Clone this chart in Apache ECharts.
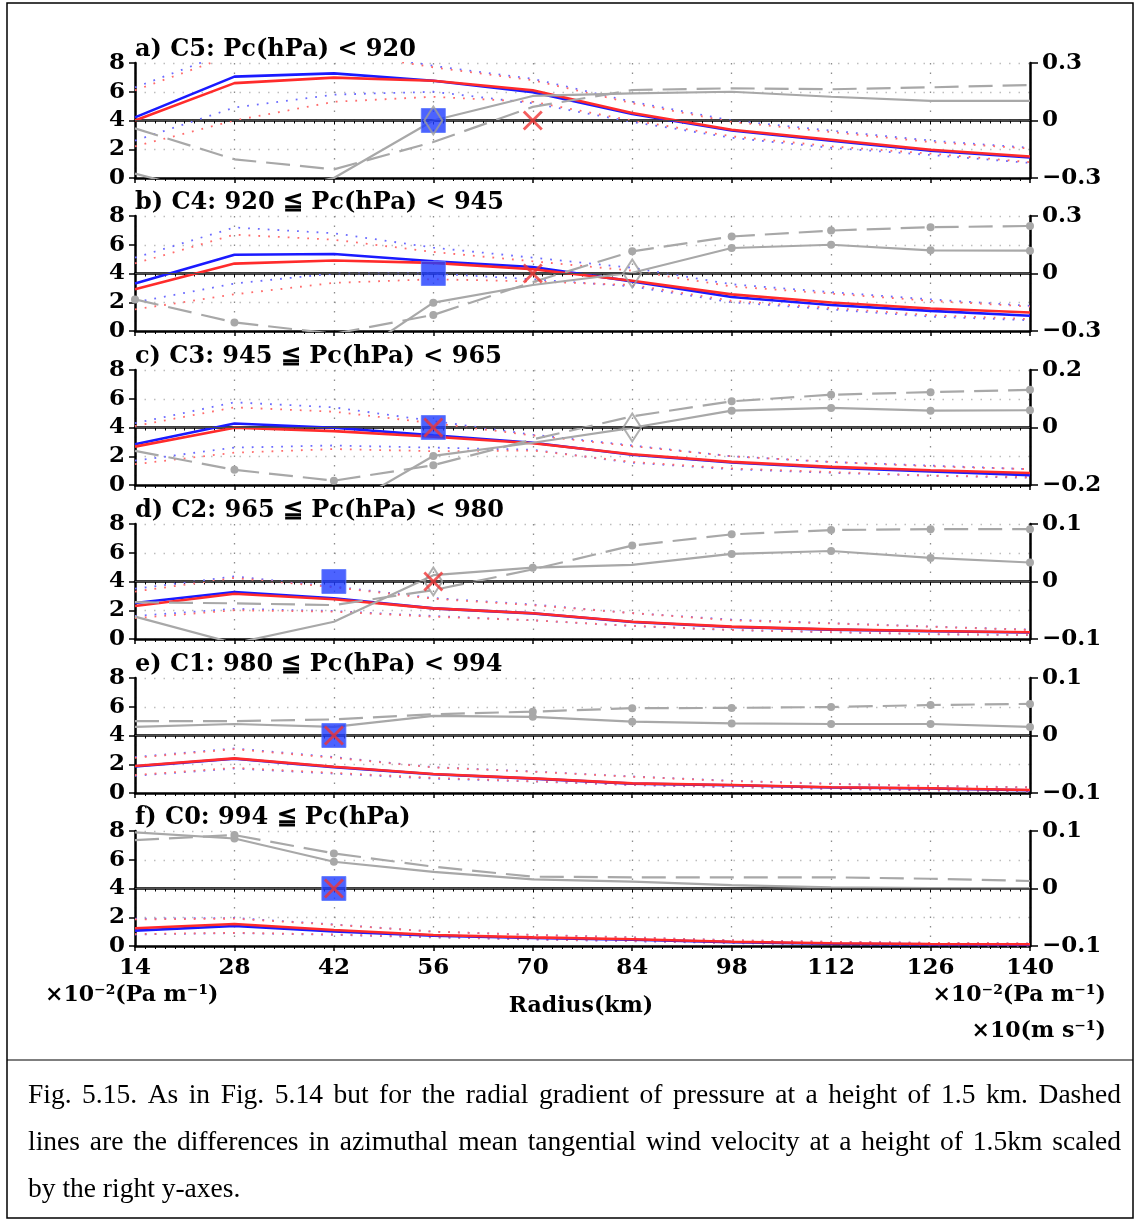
<!DOCTYPE html>
<html>
<head>
<meta charset="utf-8">
<script src="https://cdn.jsdelivr.net/npm/echarts@6.0.0/dist/echarts.min.js"></script>
<style>
html, body { margin: 0; padding: 0; background: #fff; }
#chart { width: 1136px; height: 1220px; }
</style>
</head>
<body>
<div id="chart"></div>
<script>
// radius (km) of the samples
const radius = [14, 28, 42, 56, 70, 84, 98, 112, 126, 140]
const panelTitles = [
    'a) C5: Pc(hPa) < 920',
    'b) C4: 920 ≦ Pc(hPa) < 945',
    'c) C3: 945 ≦ Pc(hPa) < 965',
    'd) C2: 965 ≦ Pc(hPa) < 980',
    'e) C1: 980 ≦ Pc(hPa) < 994',
    'f) C0: 994 ≦ Pc(hPa)'
]
// right axis half range per panel
const rightMax = [0.3, 0.3, 0.2, 0.1, 0.1, 0.1]

// radial pressure gradient (x10^-2 Pa/m), one row per panel a..f
const bluePG = [
    [4.22, 7.05, 7.28, 6.77, 5.96, 4.45, 3.3, 2.6, 1.9, 1.43],
    [3.3, 5.3, 5.36, 4.85, 4.45, 3.45, 2.37, 1.81, 1.4, 1.06],
    [2.83, 4.28, 3.98, 3.45, 2.94, 2.1, 1.57, 1.2, 0.95, 0.69],
    [2.5, 3.27, 2.83, 2.13, 1.78, 1.18, 0.84, 0.65, 0.54, 0.45],
    [1.85, 2.38, 1.8, 1.3, 1.0, 0.65, 0.54, 0.38, 0.31, 0.19],
    [1.07, 1.39, 1.02, 0.72, 0.56, 0.43, 0.27, 0.16, 0.11, 0.09]
]
const redPG = [
    [4.0, 6.6, 6.98, 6.77, 6.1, 4.52, 3.36, 2.66, 1.97, 1.5],
    [2.9, 4.69, 4.9, 4.74, 4.3, 3.5, 2.55, 1.98, 1.56, 1.29],
    [2.67, 3.98, 3.75, 3.36, 2.9, 2.14, 1.61, 1.26, 1.03, 0.83],
    [2.3, 3.15, 2.76, 2.13, 1.79, 1.2, 0.86, 0.67, 0.56, 0.47],
    [1.88, 2.41, 1.83, 1.32, 1.02, 0.67, 0.56, 0.4, 0.33, 0.21],
    [1.23, 1.53, 1.11, 0.77, 0.6, 0.47, 0.3, 0.19, 0.14, 0.12]
]
// dotted spread lines
const blueHi = [
    [6.3, 8.9, 9.0, 7.8, 6.9, 5.3, 4.0, 3.3, 2.6, 2.1],
    [5.1, 7.2, 6.8, 5.8, 5.1, 4.4, 3.25, 2.7, 2.2, 1.75],
    [4.3, 5.75, 5.4, 4.45, 3.5, 2.75, 2.0, 1.6, 1.35, 1.1],
    [3.5, 4.35, 3.65, 2.85, 2.4, 1.8, 1.35, 1.1, 0.87, 0.65],
    [2.5, 3.1, 2.5, 1.8, 1.5, 1.15, 0.85, 0.65, 0.5, 0.4],
    [1.9, 1.95, 1.5, 1.0, 0.78, 0.6, 0.4, 0.3, 0.22, 0.18]
]
const redHi = [
    [6.1, 8.6, 8.8, 7.7, 6.8, 5.2, 3.9, 3.2, 2.5, 2.05],
    [4.7, 6.7, 6.35, 5.5, 4.85, 4.2, 3.1, 2.6, 2.1, 1.7],
    [4.1, 5.4, 5.1, 4.3, 3.45, 2.7, 2.0, 1.6, 1.3, 1.1],
    [3.3, 4.25, 3.6, 2.8, 2.35, 1.8, 1.3, 1.08, 0.85, 0.63],
    [2.45, 3.05, 2.45, 1.78, 1.48, 1.13, 0.83, 0.63, 0.48, 0.38],
    [1.85, 1.9, 1.48, 1.0, 0.77, 0.58, 0.4, 0.29, 0.22, 0.17]
]
const blueLo = [
    [2.6, 4.9, 5.8, 6.0, 5.2, 3.9, 2.8, 2.1, 1.6, 1.05],
    [2.0, 3.3, 4.0, 4.0, 3.6, 3.1, 2.0, 1.5, 1.0, 0.75],
    [1.7, 2.6, 2.75, 2.6, 2.45, 1.55, 1.1, 0.85, 0.65, 0.5],
    [1.6, 2.1, 1.95, 1.6, 1.3, 0.9, 0.62, 0.47, 0.33, 0.27],
    [1.2, 1.7, 1.35, 1.0, 0.8, 0.55, 0.4, 0.28, 0.18, 0.1],
    [0.8, 0.9, 0.78, 0.6, 0.45, 0.33, 0.2, 0.1, 0.05, 0.02]
]
const redLo = [
    [2.2, 4.0, 5.3, 5.65, 5.3, 4.0, 2.9, 2.2, 1.7, 1.1],
    [1.5, 2.55, 3.35, 3.6, 3.45, 3.2, 2.1, 1.6, 1.1, 0.83],
    [1.45, 2.25, 2.5, 2.35, 2.4, 1.6, 1.15, 0.9, 0.65, 0.55],
    [1.45, 2.0, 1.9, 1.55, 1.3, 0.92, 0.63, 0.48, 0.34, 0.28],
    [1.25, 1.75, 1.4, 1.05, 0.82, 0.57, 0.42, 0.3, 0.2, 0.12],
    [0.83, 0.92, 0.8, 0.62, 0.47, 0.35, 0.22, 0.12, 0.07, 0.04]
]
// differences, right axis (gray solid / gray dashed)
const diffSolid = [
    [-0.2775, -0.41, -0.3, 0, 0.128, 0.142, 0.15, 0.124, 0.102, 0.102],
    [-0.5, -0.55, -0.5, -0.152, -0.06, 0.004, 0.133, 0.15, 0.121, 0.119],
    [-0.3, -0.32, -0.3, -0.099, -0.053, -0.001, 0.0585, 0.068, 0.0585, 0.06],
    [-0.061, -0.1075, -0.07, 0.011, 0.024, 0.029, 0.048, 0.053, 0.041, 0.033],
    [0.015, 0.02, 0.015, 0.034, 0.0325, 0.024, 0.021, 0.02, 0.02, 0.015],
    [0.0975, 0.087, 0.0465, 0.029, 0.016, 0.012, 0.006, 0.002, 0.0005, 0.0005]
]
const diffDash = [
    [-0.041, -0.2025, -0.255, -0.1125, 0.071, 0.159, 0.168, 0.163, 0.173, 0.185],
    [-0.135, -0.255, -0.315, -0.216, -0.045, 0.1155, 0.193, 0.224, 0.2415, 0.248],
    [-0.0815, -0.147, -0.185, -0.131, -0.0415, 0.039, 0.091, 0.114, 0.123, 0.131],
    [-0.036, -0.038, -0.041, -0.015, 0.021, 0.0625, 0.082, 0.0895, 0.091, 0.091],
    [0.025, 0.025, 0.028, 0.037, 0.0415, 0.0475, 0.048, 0.0495, 0.053, 0.055],
    [0.084, 0.093, 0.061, 0.038, 0.0205, 0.0195, 0.0195, 0.0195, 0.017, 0.013]
]
// 1 = significant point (dot drawn)
const solidSig = [
    [0, 0, 0, 0, 0, 0, 0, 0, 0, 0],
    [0, 0, 0, 1, 0, 0, 1, 1, 1, 1],
    [0, 0, 0, 1, 0, 0, 1, 1, 1, 1],
    [0, 0, 0, 0, 1, 0, 1, 1, 1, 1],
    [0, 0, 0, 0, 1, 1, 1, 1, 1, 1],
    [0, 1, 1, 0, 0, 0, 0, 0, 0, 0]
]
const dashSig = [
    [0, 0, 0, 0, 0, 0, 0, 0, 0, 0],
    [1, 1, 0, 1, 0, 1, 1, 1, 1, 1],
    [0, 1, 1, 1, 0, 0, 1, 1, 1, 1],
    [0, 0, 0, 0, 0, 1, 1, 1, 1, 1],
    [0, 0, 0, 0, 1, 1, 1, 1, 1, 1],
    [0, 1, 1, 0, 0, 0, 0, 0, 0, 0]
]
// RMW markers, drawn on the zero line (left value 4)
const markY = 4
const squareX = [56, 56, 56, 42, 42, 42]
const crossX = [70, 70, 56, 56, 42, 42]
const diamondX = [56, 84, 84, 56, null, null]

const capLines = [
    'Fig. 5.15. As in Fig. 5.14 but for the radial gradient of pressure at a height of 1.5 km. Dashed',
    'lines are the differences in azimuthal mean tangential wind velocity at a height of 1.5km scaled',
    'by the right y-axes.'
]

const FONT = 'DejaVu Serif'
const gridTop = [63, 216, 370, 524, 678, 831]
const gridH = 115
const crossPath = 'path://M0,1L1,0L5,4L9,0L10,1L6,5L10,9L9,10L5,6L1,10L0,9L4,5Z'

const pts = arr => radius.map((r, i) => [r, arr[i]])
const grids = [], xAxes = [], yAxes = [], series = [], graphics = []

panelTitles.forEach((title, k) => {
    const last = k === panelTitles.length - 1
    grids.push({ left: 135, width: 895, top: gridTop[k], height: gridH })
    xAxes.push({
        gridIndex: k, type: 'value', min: 14, max: 140, interval: 14, position: 'bottom',
        axisLine: { lineStyle: { color: '#000', width: 2.5 } },
        axisTick: { show: true, length: 5, lineStyle: { color: '#000', width: 1.5 } },
        minorTick: { show: true, splitNumber: 10, length: 3, lineStyle: { color: '#000' } },
        axisLabel: { show: last, color: '#000', fontFamily: FONT, fontWeight: 'bold', fontSize: 23, margin: 11 },
        splitLine: { show: true, lineStyle: { color: '#8c8c8c', width: 1.3, type: [1.5, 8] } }
    })
    xAxes.push({
        gridIndex: k, type: 'value', min: 14, max: 140, interval: 14, position: 'top',
        axisLine: { lineStyle: { color: '#000', width: 2.5 } },
        axisTick: { show: true, inside: true, length: 4, lineStyle: { color: '#000' } },
        minorTick: { show: true, splitNumber: 10, length: 3, lineStyle: { color: '#000' } },
        axisLabel: { show: false }, splitLine: { show: false }
    })
    yAxes.push({
        gridIndex: k, type: 'value', min: 0, max: 8, interval: 2, position: 'left',
        axisLine: { show: true, lineStyle: { color: '#000', width: 2.5 } },
        axisTick: { show: true, length: 6, lineStyle: { color: '#000', width: 1.5 } },
        axisLabel: { color: '#000', fontFamily: FONT, fontWeight: 'bold', fontSize: 23, margin: 10 },
        splitLine: { show: true, lineStyle: { color: '#bdbdbd', width: 1.3, type: [1.5, 8] } }
    })
    const rm = rightMax[k]
    yAxes.push({
        gridIndex: k, type: 'value', min: -rm, max: rm, interval: rm, position: 'right',
        axisLine: { show: true, lineStyle: { color: '#000', width: 2.5 } },
        axisTick: { show: true, length: 8, lineStyle: { color: '#000', width: 1.5 } },
        axisLabel: {
            color: '#000', fontFamily: FONT, fontWeight: 'bold', fontSize: 23, margin: 12,
            formatter: v => Math.abs(v) < 1e-9 ? '0' : (v < 0 ? '−' : '') + Math.abs(v).toFixed(1)
        },
        splitLine: { show: false }
    })

    const xi = 2 * k, yl = 2 * k, yr = 2 * k + 1
    const dotted = (arr, color) => ({
        type: 'line', xAxisIndex: xi, yAxisIndex: yl, data: pts(arr), symbol: 'none', silent: true, z: 2,
        lineStyle: { color: color, width: 1.8, type: [1.8, 8] }
    })
    const solid = (arr, color) => ({
        type: 'line', xAxisIndex: xi, yAxisIndex: yl, data: pts(arr), symbol: 'none', silent: true, z: 3,
        lineStyle: { color: color, width: 2.6 }
    })
    const gray = (arr, sig, dashed) => ({
        type: 'line', xAxisIndex: xi, yAxisIndex: yr, silent: true, z: 4, symbolSize: 8, showSymbol: true,
        data: radius.map((r, i) => ({ value: [r, arr[i]], symbol: sig[i] ? 'circle' : 'none' })),
        itemStyle: { color: '#a8a8a8' },
        lineStyle: { color: '#a8a8a8', width: 2.2, type: dashed ? [24, 10] : 'solid' }
    })

    const zeroLine = dotted(redLo[k], '#ff6b6b')
    zeroLine.markLine = {
        silent: true, symbol: 'none', label: { show: false },
        lineStyle: { color: '#4d4d4d', width: 1, type: 'solid' },
        data: [{ yAxis: markY }]
    }
    series.push(
        dotted(blueHi[k], '#6b6bff'), dotted(blueLo[k], '#6b6bff'),
        dotted(redHi[k], '#ff6b6b'), zeroLine,
        gray(diffSolid[k], solidSig[k], false), gray(diffDash[k], dashSig[k], true),
        solid(bluePG[k], '#1a1aff'), solid(redPG[k], '#ff2b2b'),
        {
            type: 'scatter', xAxisIndex: xi, yAxisIndex: yl, data: [[squareX[k], markY]], silent: true, z: 6,
            symbol: 'rect', symbolSize: 24, itemStyle: { color: '#1f3cff', borderColor: '#5d78ff', borderWidth: 1 }
        }
    )
    if (diamondX[k] !== null) {
        series.push({
            type: 'scatter', xAxisIndex: xi, yAxisIndex: yl, data: [[diamondX[k], markY]], silent: true, z: 7,
            symbol: 'diamond', symbolSize: [18, 28],
            itemStyle: { color: 'rgba(0,0,0,0)', borderColor: '#9c9c9c', borderWidth: 2 }
        })
    }
    series.push({
        type: 'scatter', xAxisIndex: xi, yAxisIndex: yl, data: [[crossX[k], markY]], silent: true, z: 8,
        symbol: crossPath, symbolSize: 20, itemStyle: { color: '#f03535' }
    })

    graphics.push({
        type: 'text', x: 135, y: gridTop[k] - 1,
        style: { text: title, fill: '#000', font: 'bold 24px "' + FONT + '"', verticalAlign: 'bottom', textVerticalAlign: 'bottom' }
    })
})

// axis unit labels
const unitStyle = (text, x, y, align) => ({
    type: 'text', x: x, y: y,
    style: { text: text, fill: '#000', font: 'bold 22px "' + FONT + '"', align: align, textAlign: align, verticalAlign: 'middle', textVerticalAlign: 'middle' }
})
graphics.push(
    unitStyle('×10⁻²(Pa m⁻¹)', 45, 995, 'left'),
    unitStyle('Radius(km)', 581, 1006, 'center'),
    unitStyle('×10⁻²(Pa m⁻¹)', 1106, 995, 'right'),
    unitStyle('×10(m s⁻¹)', 1106, 1031, 'right')
)

// frame and caption
graphics.push(
    { type: 'rect', shape: { x: 7, y: 3, width: 1126, height: 1215 }, style: { fill: 'none', stroke: '#000', lineWidth: 1.5 } },
    { type: 'line', shape: { x1: 7, y1: 1060, x2: 1133, y2: 1060 }, style: { stroke: '#000', lineWidth: 1.2 } }
)
const capFont = '27.5px "Liberation Serif"'
const ctx = document.createElement('canvas').getContext('2d')
ctx.font = capFont
const capLeft = 28, capRight = 1121, capY = [1096, 1143, 1190]
capLines.forEach((line, li) => {
    const words = line.split(' ')
    const justify = li < capLines.length - 1
    const widths = words.map(w => ctx.measureText(w).width)
    const total = widths.reduce((a, b) => a + b, 0)
    const gap = justify ? (capRight - capLeft - total) / (words.length - 1) : ctx.measureText(' ').width
    let x = capLeft
    words.forEach((w, i) => {
        graphics.push({
            type: 'text', x: x, y: capY[li],
            style: { text: w, fill: '#000', font: capFont, verticalAlign: 'middle', textVerticalAlign: 'middle' }
        })
        x += widths[i] + gap
    })
})

const mychart = echarts.init(document.getElementById('chart'))
mychart.setOption({
    animation: false,
    backgroundColor: '#fff',
    grid: grids,
    xAxis: xAxes,
    yAxis: yAxes,
    series: series,
    graphic: graphics
})
</script>
</body>
</html>
